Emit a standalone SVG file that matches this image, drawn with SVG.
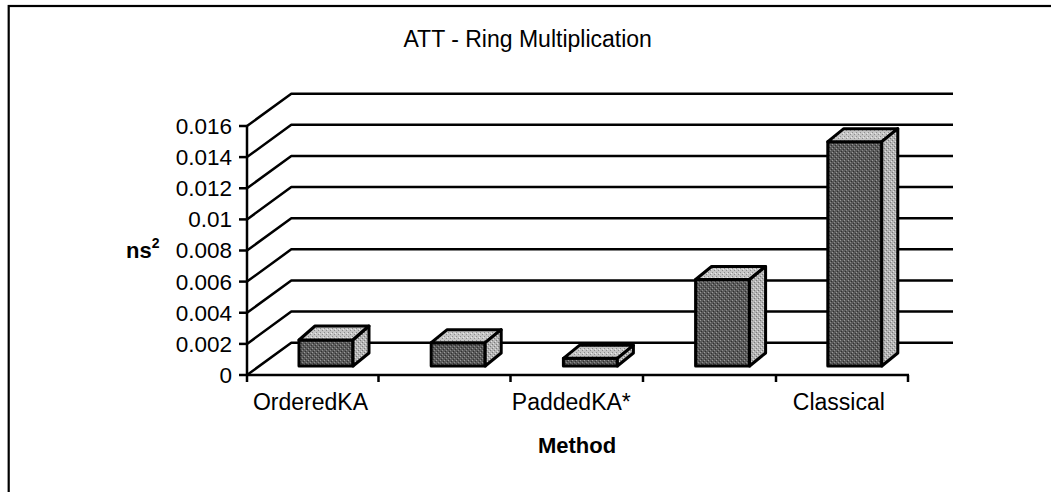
<svg xmlns="http://www.w3.org/2000/svg" width="1051" height="492" viewBox="0 0 1051 492">
<style>
  text { font-family: "Liberation Sans", Arial, sans-serif; fill: #000; }
  .title { font-size: 23px; text-anchor: middle; }
  .ylab { font-size: 22.5px; text-anchor: end; }
  .xlab { font-size: 23px; text-anchor: middle; }
  .axtitle { font-size: 22px; font-weight: bold; }
  .grid { stroke: #000; stroke-width: 2.5; fill: none; stroke-linejoin: round; }
  .axis { stroke: #000; stroke-width: 2.5; fill: none; }
  .front { fill: url(#stipDark); stroke: #000; stroke-width: 3; stroke-linejoin: round; }
  .top { fill: url(#stipLight); stroke: #000; stroke-width: 3; stroke-linejoin: round; }
  .side { fill: url(#stipSide); stroke: #000; stroke-width: 3; stroke-linejoin: round; }
</style>
<defs>
  <pattern id="stipDark" width="4" height="4" patternUnits="userSpaceOnUse">
    <rect width="4" height="4" fill="#5a5a5a"/>
    <rect x="0" y="0" width="1" height="1" fill="#9a9a9a"/>
    <rect x="2" y="2" width="1" height="1" fill="#8a8a8a"/>
    <rect x="3" y="1" width="1" height="1" fill="#303030"/>
    <rect x="1" y="3" width="1" height="1" fill="#303030"/>
  </pattern>
  <pattern id="stipLight" width="4" height="4" patternUnits="userSpaceOnUse">
    <rect width="4" height="4" fill="#c6c6c6"/>
    <rect x="0" y="0" width="1" height="1" fill="#8c8c8c"/>
    <rect x="2" y="2" width="1" height="1" fill="#8c8c8c"/>
    <rect x="3" y="1" width="1" height="1" fill="#ececec"/>
  </pattern>
  <pattern id="stipSide" width="4" height="4" patternUnits="userSpaceOnUse">
    <rect width="4" height="4" fill="#b4b4b4"/>
    <rect x="0" y="0" width="1" height="1" fill="#7a7a7a"/>
    <rect x="2" y="2" width="1" height="1" fill="#7a7a7a"/>
    <rect x="1" y="3" width="1" height="1" fill="#e0e0e0"/>
    <rect x="3" y="1" width="1" height="1" fill="#e0e0e0"/>
  </pattern>
</defs>

<rect width="1051" height="492" fill="#fff"/>
<!-- outer frame -->
<rect x="8.7" y="6" width="1060" height="500" fill="none" stroke="#000" stroke-width="2.2"/>

<text class="title" x="527.7" y="46.7">ATT - Ring Multiplication</text>

<g id="connectors">
  <polyline class="grid" points="247,375 291.3,342.7 953,342.7"/>
  <polyline class="grid" points="247,343.9 291.3,311.6 953,311.6"/>
  <polyline class="grid" points="247,312.75 291.3,280.5 953,280.5"/>
  <polyline class="grid" points="247,281.6 291.3,249.3 953,249.3"/>
  <polyline class="grid" points="247,250.5 291.3,218.2 953,218.2"/>
  <polyline class="grid" points="247,219.4 291.3,187.1 953,187.1"/>
  <polyline class="grid" points="247,188.25 291.3,156 953,156"/>
  <polyline class="grid" points="247,157.1 291.3,124.8 953,124.8"/>
  <polyline class="grid" points="247,126 291.3,93.7 953,93.7"/>
  <line class="axis" x1="247" y1="125" x2="247" y2="382"/>
  <g class="axis">
    <line x1="239" y1="375" x2="247" y2="375"/>
    <line x1="239" y1="343.9" x2="247" y2="343.9"/>
    <line x1="239" y1="312.75" x2="247" y2="312.75"/>
    <line x1="239" y1="281.6" x2="247" y2="281.6"/>
    <line x1="239" y1="250.5" x2="247" y2="250.5"/>
    <line x1="239" y1="219.4" x2="247" y2="219.4"/>
    <line x1="239" y1="188.25" x2="247" y2="188.25"/>
    <line x1="239" y1="157.1" x2="247" y2="157.1"/>
    <line x1="239" y1="126" x2="247" y2="126"/>
  </g>
  <line class="axis" x1="246" y1="375" x2="909" y2="375"/>
  <g class="axis">
    <line x1="378.5" y1="375" x2="378.5" y2="382"/>
    <line x1="510.5" y1="375" x2="510.5" y2="382"/>
    <line x1="643" y1="375" x2="643" y2="382"/>
    <line x1="776" y1="375" x2="776" y2="382"/>
    <line x1="908" y1="375" x2="908" y2="382"/>
  </g>
</g>

<g id="y-labels">
  <text class="ylab" x="232" y="383">0</text>
  <text class="ylab" x="232" y="351.8">0.002</text>
  <text class="ylab" x="232" y="320.6">0.004</text>
  <text class="ylab" x="232" y="289.5">0.006</text>
  <text class="ylab" x="232" y="258.4">0.008</text>
  <text class="ylab" x="232" y="227.3">0.01</text>
  <text class="ylab" x="232" y="196.1">0.012</text>
  <text class="ylab" x="232" y="165">0.014</text>
  <text class="ylab" x="232" y="133.9">0.016</text>
</g>
<text class="axtitle" x="126" y="258.4">ns<tspan font-size="14" dy="-10">2</tspan></text>

<g id="bar-OrderedKA">
  <rect class="front" x="299" y="340" width="54" height="26"/>
  <polygon class="top" points="299,340 315,326 369,326 353,340"/>
  <polygon class="side" points="353,340 369,326 369,353 353,366"/>
</g>
<g id="bar-2">
  <rect class="front" x="431.2" y="342.7" width="54" height="23.3"/>
  <polygon class="top" points="431.2,342.7 447.2,329.7 501.2,329.7 485.2,342.7"/>
  <polygon class="side" points="485.2,342.7 501.2,329.7 501.2,353 485.2,366"/>
</g>
<g id="bar-PaddedKA">
  <rect class="front" x="563.4" y="358.3" width="54" height="7.7"/>
  <polygon class="top" points="563.4,358.3 579.4,345.3 633.4,345.3 617.4,358.3"/>
  <polygon class="side" points="617.4,358.3 633.4,345.3 633.4,353 617.4,366"/>
</g>
<g id="bar-4">
  <rect class="front" x="695.6" y="279.5" width="54" height="86.5"/>
  <polygon class="top" points="695.6,279.5 711.6,266.5 765.6,266.5 749.6,279.5"/>
  <polygon class="side" points="749.6,279.5 765.6,266.5 765.6,353 749.6,366"/>
</g>
<g id="bar-Classical">
  <rect class="front" x="827.8" y="141.7" width="54" height="224.3"/>
  <polygon class="top" points="827.8,141.7 843.8,128.7 897.8,128.7 881.8,141.7"/>
  <polygon class="side" points="881.8,141.7 897.8,128.7 897.8,353 881.8,366"/>
</g>

<g id="x-labels">
  <text class="xlab" x="310.5" y="410">OrderedKA</text>
  <text class="xlab" x="571.3" y="410">PaddedKA*</text>
  <text class="xlab" x="838.8" y="409.5">Classical</text>
</g>
<text class="axtitle" x="577" y="453.3" text-anchor="middle">Method</text>
</svg>
